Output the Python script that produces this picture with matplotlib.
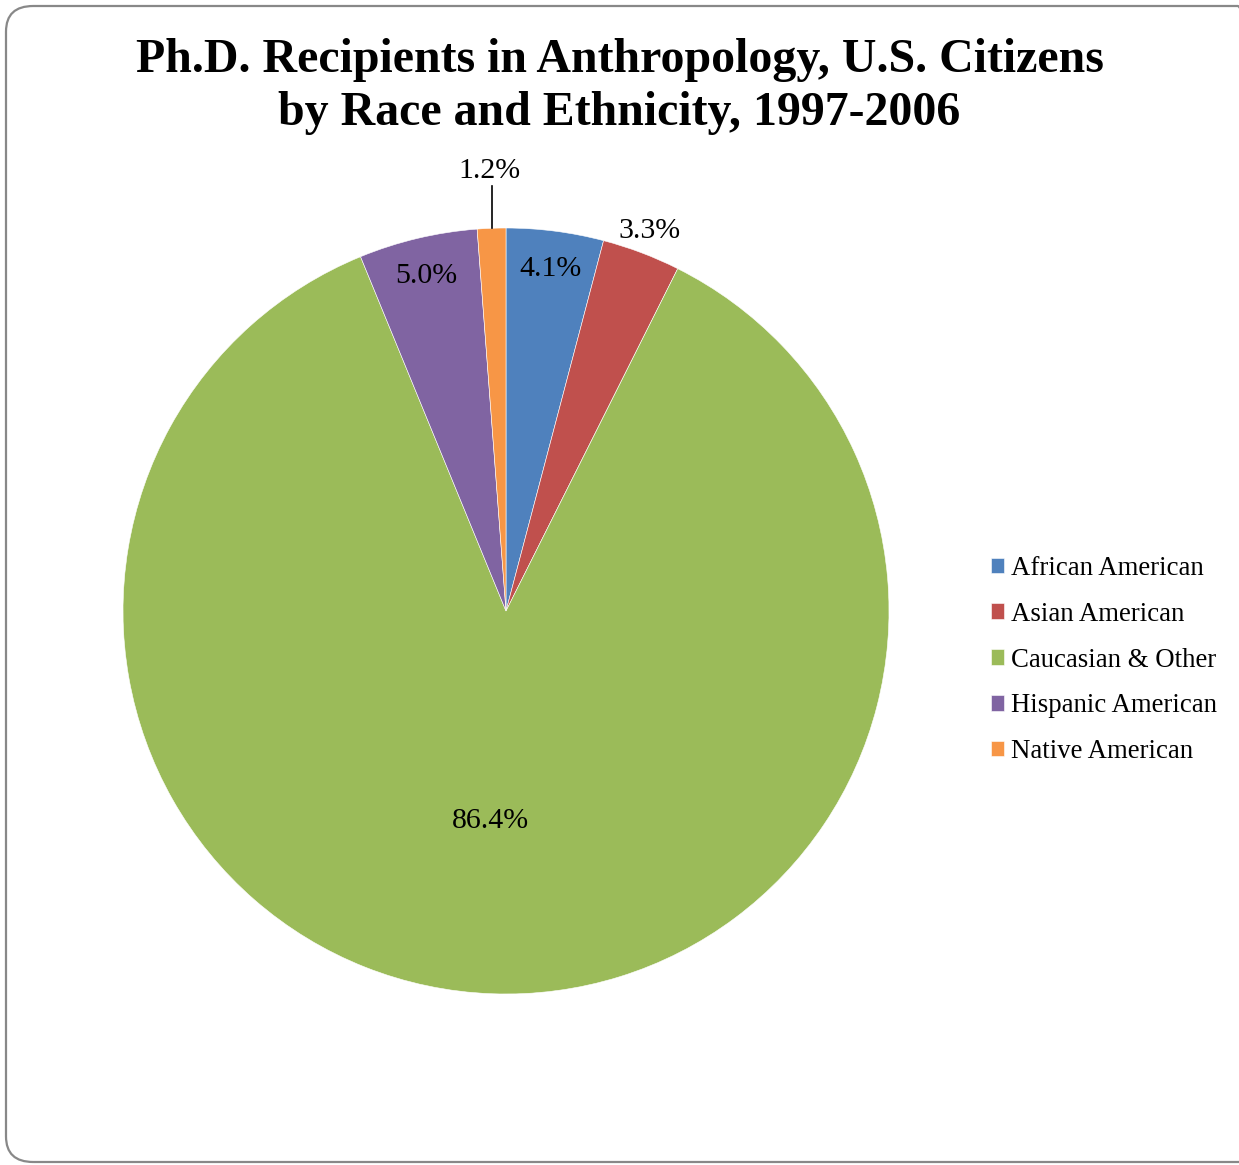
import numpy as np
import matplotlib.pyplot as plt
from matplotlib.patches import FancyBboxPatch

# Data
categories = ["African American", "Asian American", "Caucasian & Other",
              "Hispanic American", "Native American"]
shares = [4.1, 3.3, 86.4, 5.0, 1.2]
colors = ["#4F81BD", "#C0504D", "#9BBB59", "#8064A2", "#F79646"]
# radial position of each percentage label (fraction of radius)
label_r = [0.90, 1.06, 0.55, 0.90, 1.15]

W, H = 1239, 1165
plt.rcParams['font.family'] = ['Liberation Serif', 'DejaVu Serif']

fig = plt.figure(figsize=(W / 100, H / 100), dpi=100)

# rounded chart border
border = FancyBboxPatch((6 / W, 3 / H), (W + 20) / W, (H - 9) / H,
                        boxstyle="round,pad=0,rounding_size=0.022",
                        transform=fig.transFigure, facecolor="none",
                        edgecolor="#888888", linewidth=1.6, zorder=-1)
fig.patches.append(border)

# pie axes: centre (506, 611), radius 383 px
cx, cy, r = 506, 611, 383
ax = fig.add_axes([(cx - r) / W, (H - cy - r) / H, 2 * r / W, 2 * r / H])
ax.set_aspect('equal')
ax.axis('off')

wedges, _ = ax.pie(shares, colors=colors, startangle=90, counterclock=False,
                   radius=1.0, wedgeprops=dict(linewidth=0.4, edgecolor="white"))
ax.set_xlim(-1, 1)
ax.set_ylim(-1, 1)

for w, v, lr in zip(wedges, shares, label_r):
    ang = np.deg2rad((w.theta1 + w.theta2) / 2)
    if v > 50:
        ang -= np.deg2rad(2)
    x, y = lr * np.cos(ang), lr * np.sin(ang)
    ax.text(x, y, f"{v:.1f}%", ha='center', va='center', fontsize=21.5)
    if lr > 1.1:
        # leader line for the thin slice
        x0 = np.cos(ang)
        ax.plot([x0, x0], [np.sin(ang), 1.11], color='black', lw=1.2,
                clip_on=False)

fig.text(0.5, 1 - 60 / H, "Ph.D. Recipients in Anthropology, U.S. Citizens",
         ha='center', va='center', fontsize=34.5, fontweight='bold')
fig.text(0.5, 1 - 113 / H, "by Race and Ethnicity, 1997-2006",
         ha='center', va='center', fontsize=34.5, fontweight='bold')

leg = fig.legend(wedges, categories, loc='upper left',
                 bbox_to_anchor=(980 / W, 1 - 545 / H), frameon=False,
                 fontsize=19.3, handlelength=0.5, handleheight=0.5,
                 handletextpad=0.25, labelspacing=0.78, borderaxespad=0)

fig.savefig("out.png", dpi=100)
